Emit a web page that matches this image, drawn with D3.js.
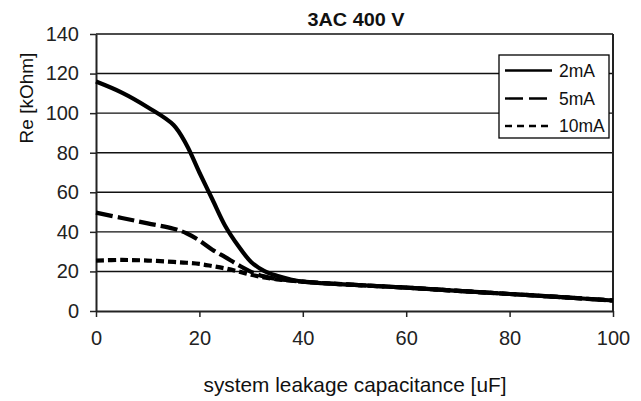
<!DOCTYPE html>
<html><head><meta charset="utf-8">
<script src="https://cdn.jsdelivr.net/npm/d3@7"></script>
<style>
html,body{margin:0;padding:0;background:#fff;}
svg{display:block;font-family:"Liberation Sans",Arial,sans-serif;}
</style></head>
<body>
<svg id="chart" width="641" height="401"></svg>
<script>
const capacitance = [0,5,10,15,17.5,20,22.5,25,27.5,30,32.5,35,37.5,40,50,60,70,80,90,100];
const re2mA  = [116,110.4,103,94,84,70,56.5,43,33,24.8,20.3,17.8,16,14.8,13.2,11.8,10.2,8.6,7,5.3];
const re5mA  = [49.7,47,44.3,41.6,39.3,35.6,31,27.2,23.3,19.8,17.5,16.2,15.5,14.8,13.2,11.8,10.2,8.6,7,5.3];
const re10mA = [25.5,25.8,25.5,24.8,24.4,23.8,22.7,21.5,20,18.3,17,16,15.4,14.8,13.2,11.8,10.2,8.6,7,5.3];
const seriesNames = ["2mA","5mA","10mA"];
const xTicks = [0,20,40,60,80,100];
const yTicks = [0,20,40,60,80,100,120,140];
const titleText = "3AC 400 V";
const xTitle = "system leakage capacitance [uF]";
const yTitle = "Re [kOhm]";

const svg = d3.select("#chart");
const L = 96, R = 613, T = 34, B = 311;
const x = d3.scaleLinear().domain([0,100]).range([L,R]);
const y = d3.scaleLinear().domain([0,140]).range([B,T]);

// gridlines
svg.append("g").selectAll("line").data(yTicks.filter(d=>d>0)).join("line")
  .attr("x1",L).attr("x2",R).attr("y1",d=>y(d)).attr("y2",d=>y(d))
  .attr("stroke","#111").attr("stroke-width",1.4);
// right border
svg.append("line").attr("x1",R).attr("x2",R).attr("y1",T).attr("y2",B)
  .attr("stroke","#222").attr("stroke-width",2);

// axes
const yAxis = svg.append("g").attr("transform",`translate(${L},0)`)
  .call(d3.axisLeft(y).tickValues(yTicks).tickSize(6).tickPadding(11).tickSizeOuter(0));
const xAxis = svg.append("g").attr("transform",`translate(0,${B})`)
  .call(d3.axisBottom(x).tickValues(xTicks).tickSize(6).tickPadding(14).tickSizeOuter(0));
[yAxis,xAxis].forEach(g=>{
  g.select(".domain").attr("stroke","#222").attr("stroke-width",2);
  g.selectAll(".tick line").attr("stroke","#222").attr("stroke-width",1.5);
  g.selectAll(".tick text").attr("fill","#222").style("font-size","20px")
    .style("font-family","'Liberation Sans',Arial,sans-serif");
});

// lines
const data = [re2mA,re5mA,re10mA];
const styles = [
  {w:4.2, dash:null},
  {w:4.2, dash:"17,5"},
  {w:4.2, dash:"8,4"}
];
const line = d3.line().x((d,i)=>x(capacitance[i])).y(d=>y(d)).curve(d3.curveCatmullRom.alpha(0.5));
data.forEach((s,k)=>{
  svg.append("path").datum(s).attr("d",line).attr("fill","none")
    .attr("stroke","#000").attr("stroke-width",styles[k].w)
    .attr("stroke-dasharray",styles[k].dash)
    .attr("stroke-linejoin","round");
});

// legend
const lg = svg.append("g");
lg.append("rect").attr("x",499).attr("y",55).attr("width",110).attr("height",83)
  .attr("fill","#fff").attr("stroke","#000").attr("stroke-width",1.3);
const legDash = [null,"18,6","7,5"];
const legY = [70.5,98.5,126];
seriesNames.forEach((n,i)=>{
  lg.append("line").attr("x1",505).attr("x2",552).attr("y1",legY[i]).attr("y2",legY[i])
    .attr("stroke","#000").attr("stroke-width",2.4).attr("stroke-dasharray",legDash[i]);
  lg.append("text").attr("x",559).attr("y",legY[i]).attr("dy","0.35em")
    .style("font-size","17.5px").attr("fill","#111").text(n);
});

// titles
svg.append("text").attr("x",356).attr("y",26).attr("text-anchor","middle")
  .style("font-size","19px").style("font-weight","bold").attr("fill","#111")
  .attr("textLength",97).attr("lengthAdjust","spacingAndGlyphs").text(titleText);
svg.append("text").attr("x",355).attr("y",392).attr("text-anchor","middle")
  .style("font-size","20.8px").attr("fill","#111").text(xTitle);
svg.append("text").attr("transform","translate(33,98) rotate(-90)").attr("text-anchor","middle")
  .style("font-size","19px").attr("fill","#111").text(yTitle);
</script>
</body></html>
